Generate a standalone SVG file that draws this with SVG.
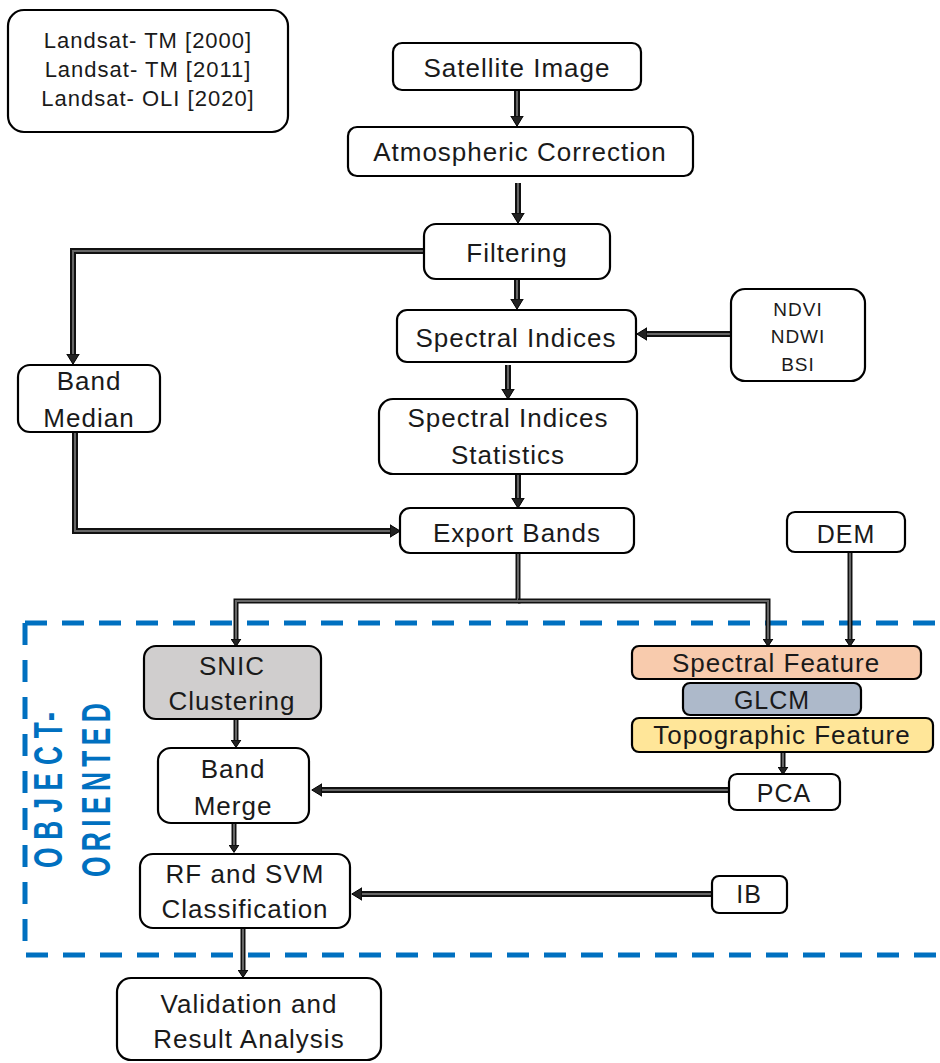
<svg xmlns="http://www.w3.org/2000/svg" width="940" height="1063" viewBox="0 0 940 1063">
<style>
.b{fill:#fff;stroke:#000;stroke-width:2.2}
.t{font-family:"Liberation Sans",Arial,sans-serif;font-size:26px;letter-spacing:1px;text-anchor:middle;fill:#1a1a1a}
.s22{font-size:22px}
.s19{font-size:19px}
.s25{font-size:25px}
.co{fill:none;stroke:#111;stroke-width:6;stroke-linejoin:miter}
.cs{fill:none;stroke:#111;stroke-width:5;stroke-linejoin:miter}
.ci{fill:none;stroke:#666;stroke-width:2}
.oo{font-family:"Liberation Sans",Arial,sans-serif;font-size:40px;font-weight:bold;fill:#0070c0}
.dash{fill:none;stroke:#0070c0;stroke-width:5;stroke-dasharray:22 15}
</style>
<defs>
<marker id="ah" markerUnits="userSpaceOnUse" markerWidth="11" markerHeight="14" refX="0" refY="7" orient="auto" viewBox="0 0 11 14"><path d="M0,0.8 L10.2,7 L0,13.2 Z" fill="#222" stroke="#000" stroke-width="1"/></marker>
<marker id="as" markerUnits="userSpaceOnUse" markerWidth="8" markerHeight="11" refX="0" refY="5.5" orient="auto" viewBox="0 0 8 11"><path d="M0,0.6 L7.4,5.5 L0,10.4 Z" fill="#222" stroke="#000" stroke-width="1"/></marker>
</defs>

<g id="object-oriented-region">
<path class="dash" d="M25,623 H948"/>
<path class="dash" d="M25,623 V955 H948"/>
<text class="oo" style="letter-spacing:11.8px" transform="translate(62,868) rotate(-90) scale(0.66,1)">OBJECT <tspan dx="-33">-</tspan></text>
<text class="oo" style="letter-spacing:8.1px" transform="translate(110,877) rotate(-90) scale(0.66,1)">ORIENTED</text>
</g>

<g id="connectors">
<path class="co" marker-end="url(#ah)" d="M517,91 V116"/><path class="ci" d="M517,91 V116"/>
<path class="co" marker-end="url(#ah)" d="M518,183 V213"/><path class="ci" d="M518,183 V213"/>
<path class="co" marker-end="url(#ah)" d="M425,251 H73 V354"/><path class="ci" d="M425,251 H73 V354"/>
<path class="co" marker-end="url(#ah)" d="M517,279 V299"/><path class="ci" d="M517,279 V299"/>
<path class="co" marker-end="url(#ah)" d="M731,334 H647"/><path class="ci" d="M731,334 H647"/>
<path class="co" marker-end="url(#ah)" d="M508,365 V389"/><path class="ci" d="M508,365 V389"/>
<path class="co" marker-end="url(#ah)" d="M518,474 V498"/><path class="ci" d="M518,474 V498"/>
<path class="co" marker-end="url(#ah)" d="M75,432 V531 H390"/><path class="ci" d="M75,432 V531 H390"/>
<path class="cs" marker-end="url(#as)" d="M518,553 V601 H236 V639"/><path class="ci" d="M518,553 V601 H236 V639"/>
<path class="cs" marker-end="url(#as)" d="M518,601 H768 V639"/><path class="ci" d="M518,601 H768 V639"/>
<path class="cs" marker-end="url(#as)" d="M850,552 V639"/><path class="ci" d="M850,552 V639"/>
<path class="cs" marker-end="url(#as)" d="M783,752 V767"/><path class="ci" d="M783,752 V767"/>
<path class="co" marker-end="url(#ah)" d="M729,790 H322"/><path class="ci" d="M729,790 H322"/>
<path class="cs" marker-end="url(#as)" d="M236,720 V740"/><path class="ci" d="M236,720 V740"/>
<path class="cs" marker-end="url(#as)" d="M234,824 V845"/><path class="ci" d="M234,824 V845"/>
<path class="co" marker-end="url(#ah)" d="M712,894 H362"/><path class="ci" d="M712,894 H362"/>
<path class="cs" marker-end="url(#as)" d="M243,928 V970"/><path class="ci" d="M243,928 V970"/>
</g>

<g id="landsat"><rect class="b" x="8" y="10" width="280" height="122" rx="16"/>
<text class="t s22" x="148" y="48">Landsat- TM [2000]</text>
<text class="t s22" x="148" y="77">Landsat- TM [2011]</text>
<text class="t s22" x="148" y="106">Landsat- OLI [2020]</text></g>

<g id="satellite-image"><rect class="b" x="393" y="43" width="248" height="47" rx="9"/>
<text class="t" x="517" y="77">Satellite Image</text></g>

<g id="atmospheric-correction"><rect class="b" x="348" y="127" width="345" height="49" rx="9"/>
<text class="t" x="520" y="161">Atmospheric Correction</text></g>

<g id="filtering"><rect class="b" x="424" y="224" width="186" height="55" rx="12"/>
<text class="t" x="517" y="262">Filtering</text></g>

<g id="spectral-indices"><rect class="b" x="397" y="310" width="239" height="52" rx="10"/>
<text class="t" x="516" y="347">Spectral Indices</text></g>

<g id="indices-list"><rect class="b" x="731" y="289" width="134" height="92" rx="14"/>
<text class="t s19" x="798" y="316">NDVI</text>
<text class="t s19" x="798" y="343">NDWI</text>
<text class="t s19" x="798" y="371">BSI</text></g>

<g id="band-median"><rect class="b" x="18" y="365" width="142" height="67" rx="12"/>
<text class="t" x="89" y="390">Band</text>
<text class="t" x="89" y="427">Median</text></g>

<g id="spectral-indices-statistics"><rect class="b" x="379" y="399" width="258" height="75" rx="14"/>
<text class="t" x="508" y="427">Spectral Indices</text>
<text class="t" x="508" y="464">Statistics</text></g>

<g id="export-bands"><rect class="b" x="400" y="508" width="234" height="45" rx="10"/>
<text class="t" x="517" y="542">Export Bands</text></g>

<g id="dem"><rect class="b" x="787" y="512" width="118" height="40" rx="8"/>
<text class="t s25" x="846" y="543">DEM</text></g>

<g id="snic-clustering"><rect class="b" x="144" y="646" width="177" height="73" rx="12" style="fill:#d0cece"/>
<text class="t" x="232" y="675">SNIC</text>
<text class="t" x="232" y="710">Clustering</text></g>

<g id="spectral-feature"><rect class="b" x="632" y="646" width="289" height="33" rx="7" style="fill:#f8cbad"/>
<text class="t" x="776" y="672">Spectral Feature</text></g>

<g id="glcm"><rect class="b" x="683" y="683" width="178" height="32" rx="7" style="fill:#adb9ca"/>
<text class="t s25" x="772" y="709">GLCM</text></g>

<g id="topographic-feature"><rect class="b" x="632" y="718" width="301" height="34" rx="7" style="fill:#ffe699"/>
<text class="t" x="782" y="744">Topographic Feature</text></g>

<g id="pca"><rect class="b" x="729" y="774" width="111" height="36" rx="8"/>
<text class="t s25" x="784" y="802">PCA</text></g>

<g id="band-merge"><rect class="b" x="158" y="748" width="151" height="75" rx="13"/>
<text class="t" x="233" y="778">Band</text>
<text class="t" x="233" y="815">Merge</text></g>

<g id="rf-svm-classification"><rect class="b" x="140" y="854" width="210" height="74" rx="13"/>
<text class="t" x="245" y="883">RF and SVM</text>
<text class="t" x="245" y="918">Classification</text></g>

<g id="ib"><rect class="b" x="712" y="876" width="75" height="37" rx="7"/>
<text class="t s25" x="749" y="903">IB</text></g>

<g id="validation"><rect class="b" x="117" y="978" width="264" height="82" rx="14"/>
<text class="t" x="249" y="1013">Validation and</text>
<text class="t" x="249" y="1048">Result Analysis</text></g>
</svg>
